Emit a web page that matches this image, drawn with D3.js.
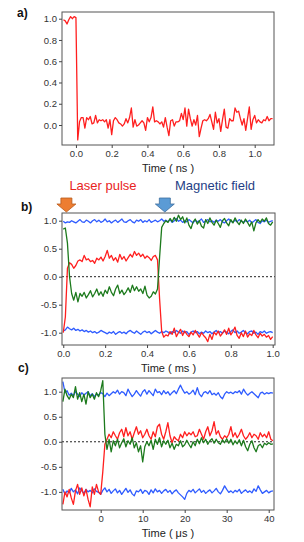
<!DOCTYPE html>
<html>
<head>
<meta charset="utf-8">
<script src="https://cdn.jsdelivr.net/npm/d3@7"></script>
<style>
  body { margin: 0; background: #fff; }
  svg { display: block; font-family: "Liberation Sans", Arial, sans-serif; }
  .tick text { font-size: 9.5px; fill: #333; }
  .axisTitle { font-size: 11px; fill: #222; }
  .panelLabel { font-size: 12px; font-weight: bold; fill: #111; }
</style>
</head>
<body>
<div id="chart"></div>
<script>
//////////////////////////////////////////////////////////////
//////////////////////////// Data ////////////////////////////
//////////////////////////////////////////////////////////////

// a) signal vs time (ns), sampled every 0.01 ns from -0.07 ns
var aStart = -0.07, aStep = 0.01;
var aRed = [0.99,0.98,0.95,0.99,1.02,1.00,1.02,1.01,-0.14,0.03,
	0.07,0.07,-0.03,0.07,0.05,0.08,0.01,0.02,0.09,0.02,
	0.05,0.04,0.05,0.03,0.05,-0.03,0.05,-0.09,0.04,0.07,
	0.05,0.02,0.01,-0.01,0.01,0.06,0.02,0.07,0.16,-0.02,
	0.05,-0.01,0.00,0.02,0.04,0.02,-0.05,0.07,0.03,0.07,
	0.17,0.03,0.04,0.03,0.01,0.03,-0.02,0.07,-0.02,-0.10,
	0.04,0.05,-0.01,0.03,0.03,0.04,0.11,0.05,0.16,-0.01,
	0.15,0.06,-0.01,0.05,0.00,0.09,-0.11,-0.03,0.04,0.05,
	0.04,0.06,0.10,0.03,-0.04,0.12,0.02,0.06,-0.06,0.05,
	0.15,-0.02,-0.03,0.06,0.04,0.04,0.16,0.12,0.13,0.06,
	0.00,0.06,-0.05,0.06,0.17,-0.04,0.05,0.09,0.02,0.05,
	0.03,0.02,0.05,0.04,0.08,0.04,0.06,0.06];

// b) signals vs time (ms), sampled every 0.01 ms from 0
var bStart = 0, bStep = 0.01;
var bBlueTop = [0.99,0.96,0.98,0.97,1.00,0.98,0.96,0.99,1.02,0.98,
	0.97,1.01,0.99,0.96,1.00,1.02,0.98,1.01,0.97,0.99,
	1.03,0.98,1.00,0.96,0.99,1.01,0.97,1.00,1.03,0.98,
	0.97,1.00,1.02,0.98,0.96,1.01,0.99,1.02,0.97,1.00,
	0.98,1.02,0.97,0.99,1.01,0.98,1.00,1.03,0.99,1.01,
	0.98,1.02,0.97,1.00,1.04,0.99,1.01,0.97,1.00,0.98,
	1.02,0.99,0.96,1.01,0.98,1.00,1.03,0.97,0.99,1.02,
	0.98,1.00,0.97,1.01,0.99,1.02,0.98,0.96,1.00,1.03,
	0.99,0.97,1.01,0.98,1.02,0.99,0.97,1.00,0.98,1.01,
	0.96,0.99,1.02,0.97,0.95,1.00,0.98,1.01,0.97,0.99,1.00];
var bBlueBottom = [-0.97,-0.95,-0.90,-0.93,-0.95,-0.92,-0.96,-0.94,-0.97,-0.95,
	-0.98,-0.96,-0.99,-0.97,-1.00,-0.98,-1.01,-0.99,-0.96,-0.98,
	-1.00,-1.02,-0.99,-1.01,-0.98,-1.03,-1.00,-0.98,-1.01,-0.99,
	-1.02,-0.98,-0.96,-0.99,-1.01,-0.97,-1.00,-1.03,-0.99,-0.97,
	-1.00,-0.98,-1.02,-0.99,-0.96,-0.99,-1.01,-0.98,-1.00,-0.97,
	-0.99,-1.02,-0.98,-1.00,-0.96,-0.99,-1.01,-0.97,-1.00,-0.98,
	-1.03,-0.99,-0.97,-1.00,-0.98,-1.02,-0.99,-1.01,-0.97,-1.00,
	-0.98,-1.02,-0.99,-0.96,-1.00,-0.98,-1.01,-0.97,-0.99,-1.02,
	-0.98,-0.95,-1.00,-0.97,-1.01,-0.99,-0.96,-1.00,-1.02,-0.98,
	-0.97,-1.01,-0.99,-1.03,-0.98,-1.00,-0.97,-1.01,-0.99,-0.98,-1.00];
var bRed = [-1.00,-0.72,0.15,0.25,0.22,0.15,0.20,0.28,0.30,0.27,
	0.38,0.30,0.32,0.27,0.29,0.24,0.33,0.30,0.35,0.28,
	0.36,0.47,0.33,0.38,0.29,0.34,0.26,0.40,0.31,0.36,
	0.28,0.34,0.40,0.35,0.45,0.38,0.42,0.36,0.40,0.33,
	0.37,0.34,0.29,0.36,0.38,0.30,-0.40,-0.98,-1.08,-1.04,
	-1.06,-0.98,-1.03,-0.92,-1.07,-1.00,-0.94,-1.05,-0.97,-1.03,
	-1.07,-0.99,-1.04,-0.96,-1.02,-1.08,-1.00,-1.05,-1.09,-1.16,
	-1.03,-1.12,-0.99,-1.04,-0.97,-1.06,-1.01,-0.95,-1.03,-0.92,
	-1.04,-0.98,-0.90,-1.05,-1.10,-1.00,-1.07,-0.97,-1.08,-1.02,
	-1.05,-0.96,-1.04,-1.09,-1.01,-1.06,-1.03,-1.08,-1.05,-1.12,-1.07];
var bGreen = [0.85,0.87,0.60,0.00,-0.30,-0.42,-0.28,-0.45,-0.30,-0.35,
	-0.28,-0.38,-0.32,-0.25,-0.36,-0.30,-0.22,-0.33,-0.27,-0.35,
	-0.24,-0.30,-0.18,-0.28,-0.34,-0.22,-0.15,-0.30,-0.24,-0.32,
	-0.27,-0.20,-0.28,-0.15,-0.25,-0.18,-0.26,-0.22,-0.30,-0.17,
	-0.33,-0.38,-0.35,-0.27,-0.31,-0.22,0.35,0.88,0.95,1.00,
	0.97,1.04,0.98,1.06,0.99,1.10,1.02,1.07,0.96,1.05,
	0.92,0.86,0.98,1.03,0.94,1.00,0.90,0.87,1.02,0.95,
	1.05,0.97,0.92,1.01,0.95,0.88,1.00,1.04,0.96,0.91,
	1.02,0.96,1.05,0.98,0.93,1.01,0.95,1.03,0.97,0.90,
	0.98,0.82,0.96,1.02,0.97,1.03,0.99,1.05,0.95,0.92,0.98];

// c) signals vs time (us), sampled every 0.5 us from -9 us
var cStart = -9, cStep = 0.5;
var cBlueTop = [1.20,0.98,1.02,0.93,0.97,0.92,1.00,0.95,0.90,0.98,
	0.93,0.97,1.00,0.92,0.96,0.90,0.95,0.93,0.98,0.96,
	0.90,0.97,0.92,0.96,1.00,0.97,1.03,0.95,1.00,0.98,
	0.92,1.05,0.97,0.90,0.95,1.02,0.96,0.91,1.00,1.04,
	0.95,1.02,0.97,0.92,1.05,0.98,1.00,0.94,1.02,0.96,
	1.00,0.93,0.98,1.02,0.96,1.05,1.13,1.04,0.97,1.00,
	0.95,0.98,1.03,0.94,1.08,0.95,0.90,0.98,1.00,0.96,
	1.02,0.94,0.97,0.93,0.98,0.90,0.86,0.95,1.00,0.97,
	0.99,0.96,1.00,0.98,1.02,0.95,1.05,0.98,0.93,0.97,
	1.00,0.96,0.92,0.88,0.97,0.99,0.95,0.98,0.96,0.98,0.97];
var cBlueBottom = [-0.95,-1.05,-0.98,-1.02,-0.93,-1.00,-0.96,-1.04,-0.92,-0.98,
	-1.03,-0.95,-1.00,-0.97,-1.02,-0.94,-0.99,-1.01,-1.05,-0.97,
	-0.92,-1.00,-0.95,-1.03,-0.98,-0.94,-1.02,-0.97,-1.05,-0.99,
	-0.93,-1.01,-0.96,-1.04,-1.08,-0.98,-1.00,-0.95,-1.03,-0.97,
	-0.99,-1.05,-0.96,-1.02,-0.94,-1.00,-0.97,-1.03,-0.98,-0.95,
	-1.01,-0.97,-1.04,-0.99,-0.96,-1.02,-1.06,-1.10,-1.15,-1.03,
	-0.97,-1.00,-0.95,-1.02,-0.98,-0.94,-1.01,-0.97,-1.03,-0.99,
	-0.96,-1.02,-0.98,-0.93,-1.00,-1.04,-0.97,-0.88,-0.95,-1.01,
	-0.98,-1.02,-0.97,-1.00,-0.95,-1.03,-0.99,-0.96,-1.01,-0.98,
	-1.02,-0.94,-0.99,-0.88,-0.96,-1.03,-1.00,-0.97,-1.02,-0.99,-0.98];
var cRed = [-1.25,-1.00,-1.10,-0.95,-1.12,-1.25,-0.98,-0.85,-1.05,-0.92,
	-1.08,-0.95,-1.15,-1.30,-0.90,-1.05,-0.85,-1.00,-1.05,-0.60,
	-0.05,0.05,0.15,0.08,0.20,0.12,0.05,0.18,0.25,0.10,
	0.28,0.12,0.20,0.05,0.18,0.30,0.15,0.22,0.08,0.15,
	0.25,0.12,0.05,0.20,0.10,0.30,0.35,0.15,0.05,0.20,
	0.38,0.12,-0.02,0.10,0.05,0.02,0.15,0.08,0.20,0.12,
	0.18,0.14,0.20,0.10,0.12,0.25,0.15,0.05,0.20,0.30,
	0.12,0.22,0.40,0.15,0.22,0.10,0.05,0.12,0.08,0.15,
	0.30,0.10,0.18,0.08,0.15,0.25,0.12,0.05,0.10,0.18,
	0.08,0.15,0.12,0.05,0.18,0.10,0.15,0.08,0.20,0.05,0.02];
var cGreen = [0.80,1.05,0.92,0.85,0.95,0.88,1.10,0.85,0.98,0.80,
	0.95,0.75,1.00,0.88,0.95,0.85,0.98,0.90,1.02,1.22,
	0.15,-0.15,0.05,-0.20,0.02,-0.08,0.05,-0.12,-0.02,0.06,
	-0.10,0.02,-0.05,0.08,-0.12,-0.02,-0.20,-0.08,-0.40,-0.10,
	0.00,-0.08,0.03,-0.15,0.05,-0.05,0.08,-0.10,0.02,-0.05,
	0.03,-0.12,-0.03,-0.15,-0.05,-0.08,0.02,-0.10,-0.06,0.03,
	-0.05,-0.12,0.00,-0.08,0.05,-0.04,0.08,-0.02,0.05,-0.05,
	0.02,0.06,-0.03,0.05,-0.02,-0.05,0.04,-0.02,0.06,-0.03,
	0.05,-0.06,0.02,-0.04,0.04,-0.08,0.03,-0.10,-0.18,-0.05,
	0.02,-0.12,-0.20,-0.08,-0.05,-0.12,-0.03,-0.06,-0.02,-0.05,-0.04];

// tick labels
var aXTicks = [0, 0.2, 0.4, 0.6, 0.8, 1.0];
var aYTicks = [0, 0.2, 0.4, 0.6, 0.8, 1.0];
var bXTicks = [0, 0.2, 0.4, 0.6, 0.8, 1.0];
var bYTicks = [-1, -0.5, 0, 0.5, 1];
var cXTicks = [0, 10, 20, 30, 40];
var cYTicks = [-1, -0.5, 0, 0.5, 1];

// event markers in panel b (ms)
var laserTime = 0.015, fieldTime = 0.485;

//////////////////////////////////////////////////////////////
/////////////////////// Set up the svg ///////////////////////
//////////////////////////////////////////////////////////////

var width = 304, height = 542;
var RED = "#ff1f1f", BLUE = "#2f5cff", GREEN = "#1c7a1c";

var svg = d3.select("#chart").append("svg")
	.attr("width", width)
	.attr("height", height);

function toPoints(values, start, step) {
	return values.map(function(v, i) { return [start + i * step, v]; });
}

function drawPanel(opt) {
	var x = d3.scaleLinear().domain(opt.xDomain).range([opt.left, opt.right]);
	var y = d3.scaleLinear().domain(opt.yDomain).range([opt.bottom, opt.top]);

	svg.append("clipPath").attr("id", "clip-" + opt.id)
		.append("rect")
		.attr("x", opt.left).attr("y", opt.top)
		.attr("width", opt.right - opt.left)
		.attr("height", opt.bottom - opt.top);

	var plot = svg.append("g").attr("clip-path", "url(#clip-" + opt.id + ")");

	if (opt.zeroLine) {
		plot.append("line")
			.attr("x1", opt.left).attr("x2", opt.right)
			.attr("y1", y(0)).attr("y2", y(0))
			.style("stroke", "#222")
			.style("stroke-width", 1)
			.style("stroke-dasharray", "2,2");
	}

	var line = d3.line()
		.x(function(d) { return x(d[0]); })
		.y(function(d) { return y(d[1]); });

	opt.series.forEach(function(s) {
		plot.append("path")
			.datum(toPoints(s.values, opt.start, opt.step))
			.attr("d", line)
			.style("fill", "none")
			.style("stroke", s.color)
			.style("stroke-width", 1.3)
			.style("stroke-linejoin", "round");
	});

	//Frame
	svg.append("rect")
		.attr("x", opt.left).attr("y", opt.top)
		.attr("width", opt.right - opt.left)
		.attr("height", opt.bottom - opt.top)
		.style("fill", "none")
		.style("stroke", "#555")
		.style("stroke-width", 1);

	var fmt = opt.xFormat || d3.format(".1f");

	var xAxis = svg.append("g")
		.attr("transform", "translate(0," + opt.bottom + ")")
		.call(d3.axisBottom(x).tickValues(opt.xTicks).tickSize(3).tickPadding(2).tickFormat(fmt));
	var yAxis = svg.append("g")
		.attr("transform", "translate(" + opt.left + ",0)")
		.call(d3.axisLeft(y).tickValues(opt.yTicks).tickSize(3).tickPadding(2).tickFormat(d3.format(".1f")));

	[xAxis, yAxis].forEach(function(ax) {
		ax.select(".domain").remove();
		ax.selectAll(".tick line").style("stroke", "#444");
		ax.selectAll(".tick text").style("font-family", "'Liberation Sans', Arial, sans-serif");
	});
	yAxis.selectAll(".tick text").text(function(d) { return d3.format(".1f")(d).replace("\u2212", "-"); });

	svg.append("text")
		.attr("class", "axisTitle")
		.attr("x", (opt.left + opt.right) / 2)
		.attr("y", opt.bottom + 27)
		.style("text-anchor", "middle")
		.text(opt.xTitle);

	svg.append("text")
		.attr("class", "panelLabel")
		.attr("x", opt.labelX)
		.attr("y", opt.labelY)
		.text(opt.label);

	return { x: x, y: y };
}

//////////////////////////////////////////////////////////////
///////////////////////// Panels /////////////////////////////
//////////////////////////////////////////////////////////////

drawPanel({
	id: "a", label: "a)", labelX: 17, labelY: 17,
	left: 62, right: 274, top: 12, bottom: 145,
	xDomain: [-0.078, 1.108], yDomain: [-0.188, 1.063],
	xTicks: aXTicks, yTicks: aYTicks,
	start: aStart, step: aStep,
	xTitle: "Time ( ns )",
	series: [{ values: aRed, color: RED }]
});

var b = drawPanel({
	id: "b", label: "b)", labelX: 21, labelY: 211,
	left: 62, right: 275, top: 213, bottom: 345,
	xDomain: [-0.006, 1.011], yDomain: [-1.22, 1.1375],
	xTicks: bXTicks, yTicks: bYTicks,
	start: bStart, step: bStep,
	xTitle: "Time ( ms )", zeroLine: true,
	series: [
		{ values: bBlueTop, color: BLUE },
		{ values: bBlueBottom, color: BLUE },
		{ values: bRed, color: RED },
		{ values: bGreen, color: GREEN }
	]
});

drawPanel({
	id: "c", label: "c)", labelX: 18, labelY: 372,
	left: 62, right: 274, top: 378, bottom: 510,
	xDomain: [-9.21, 41.26], yDomain: [-1.362, 1.273],
	xTicks: cXTicks, yTicks: cYTicks,
	start: cStart, step: cStep,
	xFormat: d3.format("d"),
	xTitle: "Time ( \u03bcs )", zeroLine: true,
	series: [
		{ values: cBlueTop, color: BLUE },
		{ values: cBlueBottom, color: BLUE },
		{ values: cRed, color: RED },
		{ values: cGreen, color: GREEN }
	]
});

//////////////////////////////////////////////////////////////
//////////////////// Arrows and labels ///////////////////////
//////////////////////////////////////////////////////////////

function downArrow(cx, fill, stroke) {
	var top = 198, mid = 204, tip = 212, shaft = 5.5, head = 9.5;
	var pts = [
		[cx - shaft, top], [cx + shaft, top], [cx + shaft, mid], [cx + head, mid],
		[cx, tip], [cx - head, mid], [cx - shaft, mid]
	];
	svg.append("path")
		.attr("d", "M" + pts.join("L") + "Z")
		.style("fill", fill)
		.style("stroke", stroke)
		.style("stroke-width", 0.8);
}

downArrow(b.x(laserTime), "#ed7d31", "#b85a1c");
downArrow(b.x(fieldTime), "#5b9bd5", "#3f6f9e");

svg.append("text")
	.attr("x", 103).attr("y", 190)
	.style("text-anchor", "middle")
	.style("font-size", "13px")
	.style("fill", "#e8231e")
	.text("Laser pulse");

svg.append("text")
	.attr("x", 215).attr("y", 190)
	.style("text-anchor", "middle")
	.style("font-size", "13px")
	.style("fill", "#1f3f86")
	.text("Magnetic field");
</script>
</body>
</html>
